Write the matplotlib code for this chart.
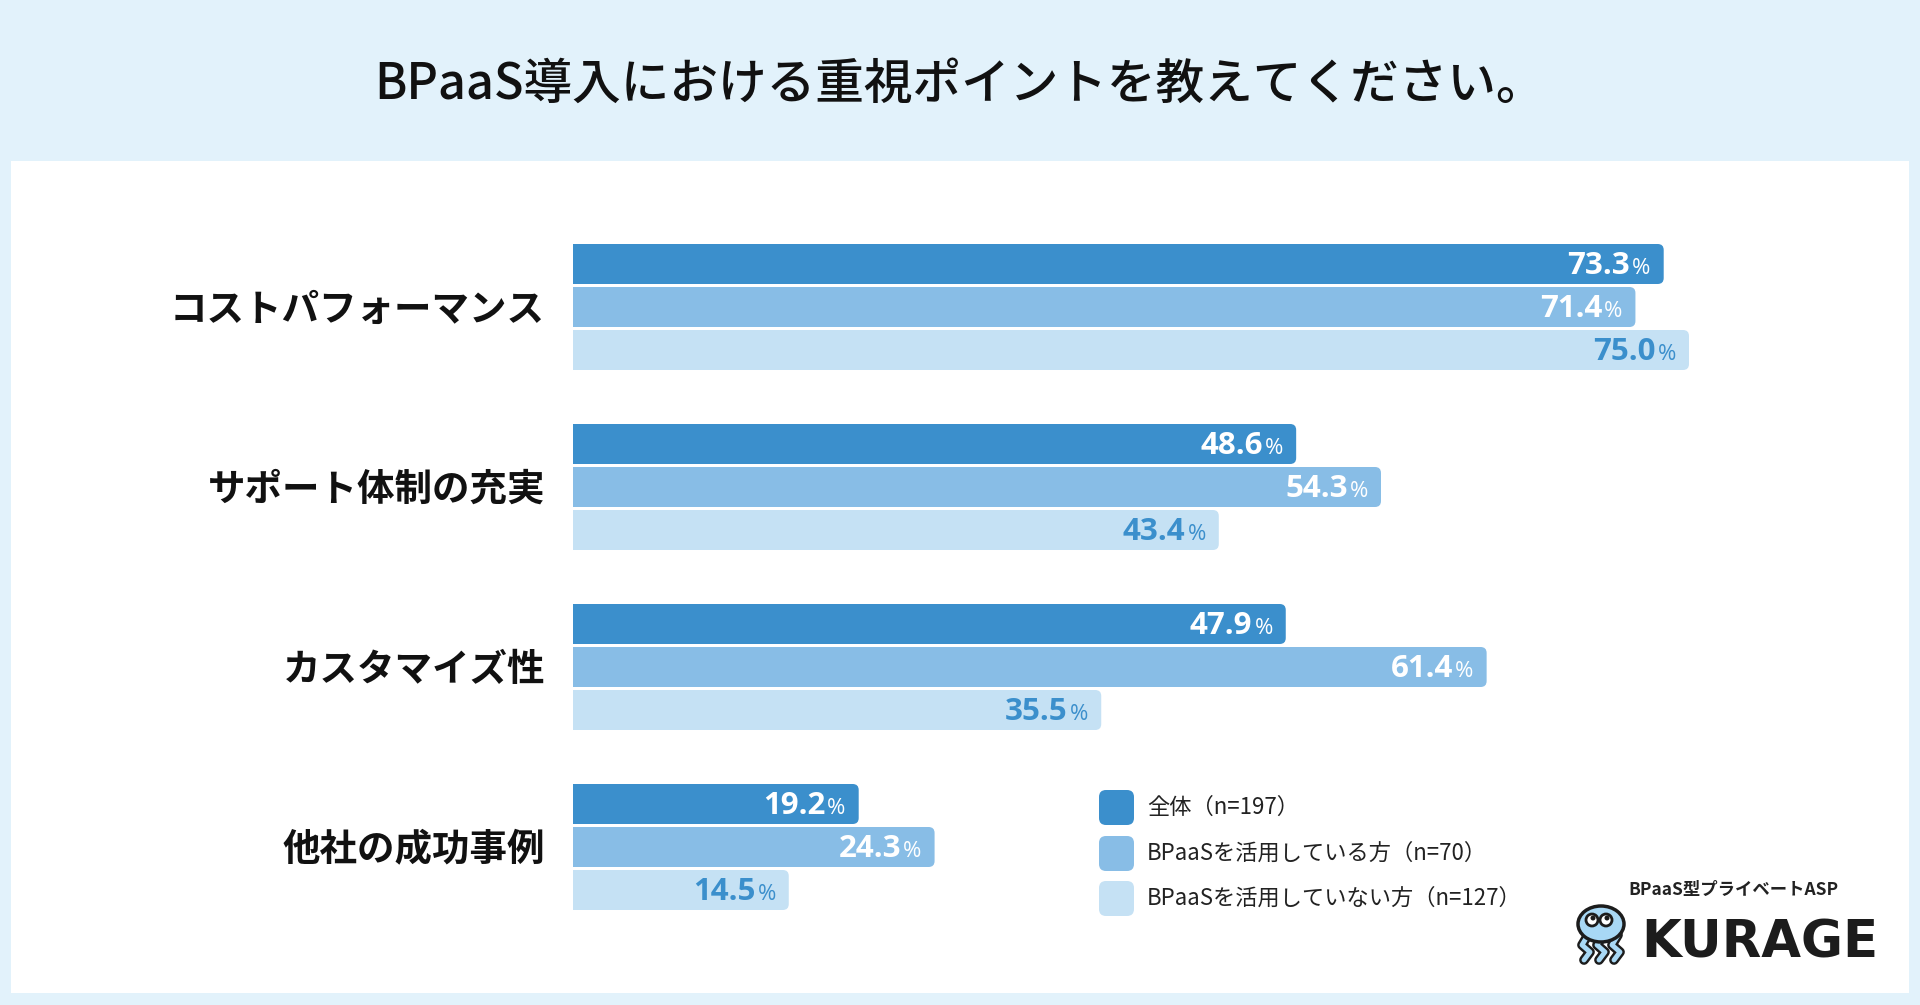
import matplotlib
matplotlib.use("Agg")
import matplotlib.pyplot as plt
from matplotlib.patches import FancyBboxPatch, Rectangle, Circle, Ellipse

# データ
categories = ["コストパフォーマンス", "サポート体制の充実", "カスタマイズ性", "他社の成功事例"]
series_names = ["全体（n=197）", "BPaaSを活用している方（n=70）", "BPaaSを活用していない方（n=127）"]
all_vals = [73.3, 48.6, 47.9, 19.2]
users_vals = [71.4, 54.3, 61.4, 24.3]
nonusers_vals = [75.0, 43.4, 35.5, 14.5]
title = "BPaaS導入における重視ポイントを教えてください。"

colors = ["#3b8fcc", "#88bde6", "#c5e1f4"]
label_colors = ["white", "white", "#3b8fcc"]
bg = "#e2f2fb"
jp = ["Noto Sans CJK JP", "DejaVu Sans"]
num_font = ["Open Sans", "DejaVu Sans"]

W, H = 1920, 1005
fig = plt.figure(figsize=(W / 100, H / 100), dpi=100)
fig.patch.set_facecolor(bg)

# 背景・装飾用の座標系（ピクセル）
base = fig.add_axes([0, 0, 1, 1])
base.set_xlim(0, W)
base.set_ylim(H, 0)
base.axis("off")
base.add_patch(Rectangle((11, 161), 1898, 832, facecolor="white", edgecolor="none"))
base.text(W / 2, 99, title, ha="center", va="baseline", fontsize=35,
          fontweight="medium", family=jp, color="#111111")

# 棒グラフ
px_per = 14.88
left_px, right_px = 573, 1908
ax = fig.add_axes([left_px / W, 0, (right_px - left_px) / W, 1])
ax.set_xlim(0, (right_px - left_px) / px_per)
ax.set_ylim(H, 0)
ax.axis("off")
ax.patch.set_alpha(0)

group_c = 307
group_step = 180
bar_step = 43
bar_h = 40
r_px = 6
series = [all_vals, users_vals, nonusers_vals]

fig.canvas.draw()
renderer = fig.canvas.get_renderer()

for i, cat in enumerate(categories):
    gc = group_c + group_step * i
    ax.text(-28 / px_per, gc + 14, cat, ha="right", va="baseline",
            fontsize=27, fontweight="bold", family=jp, color="#111111")
    for j, vals in enumerate(series):
        v = vals[i]
        yc = gc + bar_step * (j - 1)
        bars = ax.barh([yc], [v], height=bar_h, color=colors[j], alpha=0)
        b = bars[0]
        # 右端だけ角丸（左側の丸みは軸の外でクリップ）
        rx = r_px / px_per
        patch = FancyBboxPatch((-rx, b.get_y()), v + rx, b.get_height(),
                               boxstyle=f"round,pad=0,rounding_size={rx}",
                               mutation_aspect=px_per,
                               facecolor=colors[j], edgecolor="none")
        patch.set_clip_on(True)
        ax.add_patch(patch)

        end_x = v - 13 / px_per
        pct = ax.text(end_x, yc + 10, "%", ha="right", va="baseline",
                      fontsize=16, family=num_font, color=label_colors[j])
        pw = pct.get_window_extent(renderer).width
        ax.text(end_x - (pw + 2) / px_per, yc + 10, f"{v:.1f}", ha="right",
                va="baseline", fontsize=22.5, fontweight="bold",
                family=num_font, color=label_colors[j])

# 凡例
leg_x = 1099
leg_rows = [807, 853, 898]
for name, c, yc in zip(series_names, colors, leg_rows):
    base.add_patch(FancyBboxPatch((leg_x, yc - 17), 35, 35,
                                  boxstyle="round,pad=0,rounding_size=7",
                                  facecolor=c, edgecolor="none"))
    base.text(1147, yc + 7, name, ha="left", va="baseline", fontsize=16,
              family=jp, color="#222222")

# ロゴ
base.text(1733, 895, "BPaaS型プライベートASP", ha="center", va="baseline",
          fontsize=12.5, fontweight="bold", family=jp, color="#222222")
base.text(1641, 957, "KURAGE", ha="left", va="baseline", fontsize=37,
          fontweight="bold", family=["DejaVu Sans"], color="#1c1c1c")
# くらげアイコン（簡易）
for tx in [1588, 1603, 1618]:
    base.plot([tx, tx - 6, tx + 2, tx - 4], [935, 945, 952, 960],
              color="#1c1c1c", lw=7, solid_capstyle="round", zorder=3)
    base.plot([tx, tx - 6, tx + 2, tx - 4], [935, 945, 952, 960],
              color="#a8d8f5", lw=3.5, solid_capstyle="round", zorder=4)
base.add_patch(Ellipse((1601, 924), 46, 36, facecolor="#a8d8f5",
                       edgecolor="#1c1c1c", lw=2.5, zorder=5))
for ex in [1592, 1606]:
    base.add_patch(Circle((ex, 920), 6, facecolor="white",
                          edgecolor="#1c1c1c", lw=2, zorder=6))
    base.add_patch(Circle((ex + 1, 918), 2.5, facecolor="#1c1c1c", zorder=7))

fig.savefig("out.png", dpi=100, facecolor=bg)
